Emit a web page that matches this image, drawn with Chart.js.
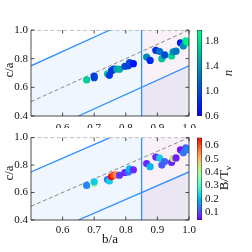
<!DOCTYPE html>
<html>
<head>
<meta charset="utf-8">
<script src="https://cdn.jsdelivr.net/npm/chart.js@4.4.0/dist/chart.umd.min.js"></script>
<style>
  html, body { margin: 0; padding: 0; background: #fff; width: 252px; height: 252px; overflow: hidden; }
  canvas { position: absolute; }
</style>
</head>
<body>
<canvas id="topChart" width="252" height="128" style="left:0;top:0"></canvas>
<canvas id="bottomChart" width="252" height="124" style="left:0;top:128px"></canvas>
<canvas id="topBar" width="62" height="128" style="left:190px;top:0"></canvas>
<canvas id="bottomBar" width="62" height="124" style="left:190px;top:128px"></canvas>
<script>
// galaxy axis ratios
const ba = [0.676, 0.700, 0.700, 0.742, 0.748, 0.755, 0.762, 0.771, 0.780, 0.797, 0.808, 0.812, 0.824,
            0.866, 0.877, 0.895, 0.907, 0.914, 0.923, 0.945, 0.950, 0.959, 0.973, 0.982, 0.990, 0.996];
const ca = [0.652, 0.667, 0.678, 0.694, 0.684, 0.716, 0.727, 0.728, 0.726, 0.746, 0.750, 0.772, 0.765,
            0.811, 0.788, 0.858, 0.850, 0.800, 0.826, 0.819, 0.848, 0.852, 0.911, 0.889, 0.925, 0.912];
const nIndex = [1.7, 1.0, 0.95, 1.7, 0.9, 0.9, 0.85, 1.45, 1.55, 1.0, 0.95, 1.0, 0.7,
                1.35, 0.8, 0.85, 1.2, 1.65, 1.0, 1.75, 1.35, 1.25, 0.75, 1.35, 1.85, 1.9];
const bt = [0.15, 0.38, 0.22, 0.13, 0.22, 0.66, 0.6, 0.55, 0.08, 0.07, 0.13, 0.2, 0.07,
            0.07, 0.2, 0.07, 0.22, 0.11, 0.12, 0.07, 0.45, 0.06, 0.05, 0.13, 0.12, 0.15];

const xTicks = [0.6, 0.7, 0.8, 0.9, 1.0];
const yTicks = [0.4, 0.6, 0.8, 1.0];
const nTicks = [0.6, 0.8, 1.0, 1.2, 1.4, 1.6, 1.8];
const btTicks = [0.1, 0.2, 0.3, 0.4, 0.5, 0.6];
const nRange = [0.6, 1.97];
const btRange = [0.04, 0.66];

// guide lines
const upperLine = [[0.5, 0.75], [0.75, 1.0]];
const lowerLine = [[0.65, 0.4], [1.0, 0.75]];
const cutLine = [[0.85, 0.4], [0.85, 1.0]];
const diagLine = [[0.5, 0.5], [1.0, 1.0]];
const topLine = [[0.5, 1.0], [1.0, 1.0]];
const blueZone = [[0.5, 0.75], [0.75, 1.0], [0.85, 1.0]];
const pinkZone = [[0.85, 1.0], [1.0, 1.0]];
const lavZone = [[0.85, 0.6], [1.0, 0.75]];

const serif = "'Liberation Serif', 'Times New Roman', serif";
const toXY = arr => arr.map(p => ({ x: p[0], y: p[1] }));

function winter(t) {
    t = Math.max(0, Math.min(1, t));
    return `rgb(0,${Math.round(255 * t)},${Math.round(255 * (1 - 0.5 * t))})`;
}
function rainbow(t) {
    t = Math.max(0, Math.min(1, t));
    const c = v => Math.round(255 * Math.max(0, Math.min(1, v)));
    return `rgb(${c(Math.abs(2 * t - 0.5))},${c(Math.sin(Math.PI * t))},${c(Math.cos(Math.PI * t / 2))})`;
}

// inward ticks + spines (no top spine, dashed line sits there)
const framePlugin = {
    id: 'frame',
    afterDatasetsDraw(chart) {
        const { ctx, chartArea: a, scales } = chart;
        ctx.save();
        ctx.strokeStyle = '#222';
        ctx.lineWidth = 0.8;
        ctx.beginPath();
        ctx.moveTo(a.left, a.top); ctx.lineTo(a.left, a.bottom);
        ctx.lineTo(a.right, a.bottom); ctx.lineTo(a.right, a.top);
        scales.x.ticks.forEach(t => {
            const px = scales.x.getPixelForValue(t.value);
            ctx.moveTo(px, a.bottom); ctx.lineTo(px, a.bottom - 3.5);
            ctx.moveTo(px, a.top); ctx.lineTo(px, a.top + 3.5);
        });
        scales.y.ticks.forEach(t => {
            const py = scales.y.getPixelForValue(t.value);
            ctx.moveTo(a.left, py); ctx.lineTo(a.left + 3.5, py);
            ctx.moveTo(a.right, py); ctx.lineTo(a.right - 3.5, py);
        });
        ctx.stroke();
        ctx.restore();
    }
};

function labelPlugin(labels) {
    return {
        id: 'labels',
        afterDraw(chart) {
            const ctx = chart.ctx;
            labels.forEach(l => {
                ctx.save();
                ctx.translate(l.x, l.y);
                if (l.rotate) ctx.rotate(-Math.PI / 2);
                ctx.fillStyle = '#111';
                ctx.textBaseline = 'middle';
                ctx.font = (l.italic ? 'italic ' : '') + '13px ' + serif;
                const mainW = ctx.measureText(l.text).width;
                let subW = 0;
                if (l.sub) {
                    ctx.font = '9px ' + serif;
                    subW = ctx.measureText(l.sub).width;
                }
                const start = -(mainW + subW) / 2;
                ctx.font = (l.italic ? 'italic ' : '') + '13px ' + serif;
                ctx.textAlign = 'left';
                ctx.fillText(l.text, start, 0);
                if (l.sub) {
                    ctx.font = '9px ' + serif;
                    ctx.fillText(l.sub, start + mainW, 4);
                }
                ctx.restore();
            });
        }
    };
}

function lineSet(pts, color, width, dash, order) {
    return {
        type: 'line', data: toXY(pts), borderColor: color, borderWidth: width,
        borderDash: dash || [], pointRadius: 0, fill: false, order: order, tension: 0
    };
}
function zoneSet(pts, color, order) {
    return {
        type: 'line', data: toXY(pts), borderWidth: 0, borderColor: 'rgba(0,0,0,0)',
        backgroundColor: color, pointRadius: 0, fill: 'start', order: order, tension: 0
    };
}

function makeMain(id, colors, padTop, axisHeight, tickPad, extraLabels) {
    const points = ba.map((v, i) => ({ x: v, y: ca[i] }));
    return new Chart(document.getElementById(id), {
        type: 'scatter',
        data: {
            datasets: [
                { type: 'scatter', data: points, pointRadius: 3.6, pointBorderWidth: 0,
                  pointBackgroundColor: colors, backgroundColor: colors, order: 0 },
                lineSet(diagLine, '#888', 1, [4, 2.5], 1),
                lineSet(topLine, '#888', 1, [4, 2.5], 1),
                lineSet(upperLine, '#2f8fff', 1.3, null, 1),
                lineSet(lowerLine, '#2f8fff', 1.3, null, 1),
                lineSet(cutLine, '#2f8fff', 1.3, null, 1),
                zoneSet(lavZone, '#ebe6f4', 3),
                zoneSet(pinkZone, '#f8f1f8', 4),
                zoneSet(blueZone, '#eff6fe', 5)
            ]
        },
        options: {
            responsive: false,
            animation: false,
            events: [],
            layout: { padding: { top: padTop, right: 63, left: 0, bottom: 0 } },
            plugins: { legend: { display: false }, tooltip: { enabled: false } },
            scales: {
                x: {
                    type: 'linear', min: 0.5, max: 1.0,
                    afterBuildTicks: s => { s.ticks = xTicks.map(v => ({ value: v })); },
                    afterFit: s => { s.height = axisHeight; },
                    grid: { display: false, drawTicks: false },
                    border: { display: false },
                    ticks: { color: '#111', padding: tickPad, maxRotation: 0, font: { family: serif, size: 11 },
                             callback: v => v.toFixed(1) }
                },
                y: {
                    type: 'linear', min: 0.4, max: 1.0,
                    afterBuildTicks: s => { s.ticks = yTicks.map(v => ({ value: v })); },
                    afterFit: s => { s.width = 31; },
                    grid: { display: false, drawTicks: false },
                    border: { display: false },
                    ticks: { color: '#111', padding: 3, font: { family: serif, size: 11 },
                             callback: v => v.toFixed(1) }
                }
            }
        },
        plugins: [framePlugin, labelPlugin(extraLabels)]
    });
}

function makeBar(id, range, ticks, cmap, padTop, padBottom, label) {
    return new Chart(document.getElementById(id), {
        type: 'bar',
        data: {
            labels: [''],
            datasets: [{
                data: [range],
                backgroundColor: ctx => {
                    const a = ctx.chart.chartArea;
                    if (!a) return '#888';
                    const g = ctx.chart.ctx.createLinearGradient(0, a.bottom, 0, a.top);
                    for (let i = 0; i <= 20; i++) g.addColorStop(i / 20, cmap(i / 20));
                    return g;
                },
                borderColor: '#222', borderWidth: 0.8, borderSkipped: false,
                barPercentage: 1, categoryPercentage: 1
            }]
        },
        options: {
            responsive: false,
            animation: false,
            events: [],
            layout: { padding: { top: padTop, bottom: padBottom, left: 7, right: 0 } },
            plugins: { legend: { display: false }, tooltip: { enabled: false } },
            scales: {
                x: { display: false },
                y: {
                    position: 'right', min: range[0], max: range[1],
                    afterBuildTicks: s => { s.ticks = ticks.map(v => ({ value: v })); },
                    afterFit: s => { s.width = 50; },
                    grid: { display: false, drawTicks: false },
                    border: { display: false },
                    ticks: { color: '#111', padding: 3, font: { family: serif, size: 11 },
                             callback: v => v.toFixed(1) }
                }
            }
        },
        plugins: [labelPlugin([label])]
    });
}

const nColors = nIndex.map(v => winter((v - nRange[0]) / (nRange[1] - nRange[0])));
const btColors = bt.map(v => rainbow((v - btRange[0]) / (btRange[1] - btRange[0])));

makeMain('topChart', nColors, 30, 12, 6, [{ text: 'c/a', x: 10, y: 70, rotate: true }]);
makeMain('bottomChart', btColors, 5, 32, 4, [
    { text: 'c/a', x: 10, y: 45, rotate: true },
    { text: 'b/a', x: 110, y: 112 }
]);
makeBar('topBar', nRange, nTicks, winter, 30, 12, { text: 'n', x: 39, y: 73, rotate: true, italic: true });
makeBar('bottomBar', btRange, btTicks, rainbow, 5, 32, { text: 'B/T', sub: 'v', x: 35, y: 50, rotate: true });
</script>
</body>
</html>
